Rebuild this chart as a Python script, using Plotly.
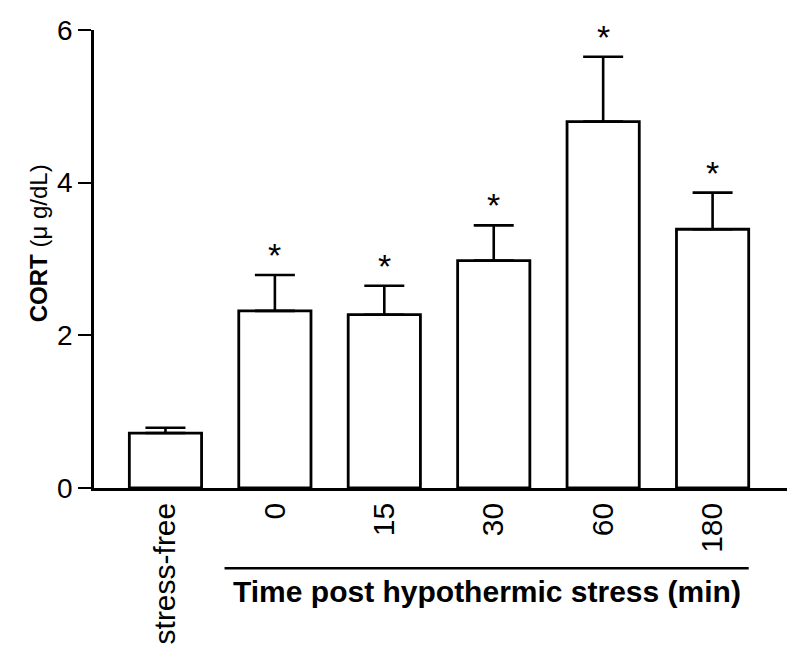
import plotly.graph_objects as go

categories = ["stress-free", "0", "15", "30", "60", "180"]
cort_mean = [0.72, 2.32, 2.27, 2.98, 4.80, 3.39]
cort_sem = [0.07, 0.47, 0.38, 0.46, 0.85, 0.48]
significant = [False, True, True, True, True, True]
y_ticks = [0, 2, 4, 6]

FONT = "Liberation Sans, Arial, sans-serif"
xs = list(range(len(categories)))

fig = go.Figure()
fig.add_trace(go.Bar(
    x=xs, y=cort_mean,
    marker=dict(color="white", line=dict(color="black", width=2.8)),
    error_y=dict(type="data", array=cort_sem, arrayminus=[0] * len(cort_sem),
                 symmetric=False, color="black", thickness=2.6, width=20),
    showlegend=False,
))

annotations = []
for i, (m, s, sig) in enumerate(zip(cort_mean, cort_sem, significant)):
    if sig:
        annotations.append(dict(x=i, y=m + s, xref="x", yref="y", text="*",
                                showarrow=False, yanchor="middle", yshift=20,
                                font=dict(family=FONT, size=34, color="black")))

annotations.append(dict(x=2.94, y=-0.227, xref="x", yref="paper",
                        text="<b>Time post hypothermic stress (min)</b>",
                        showarrow=False, yanchor="middle",
                        font=dict(family=FONT, size=30, color="black")))
annotations.append(dict(x=-0.079, y=0.535, xref="paper", yref="paper",
                        text="<b>CORT</b> (\u03bc g/dL)",
                        textangle=-90,
                        showarrow=False, xanchor="center", yanchor="middle",
                        font=dict(family=FONT, size=24, color="black")))

fig.update_layout(
    width=800, height=663,
    margin=dict(l=86, r=21, t=22, b=183, autoexpand=False),
    paper_bgcolor="white", plot_bgcolor="white",
    bargap=0.34,
    annotations=annotations,
    shapes=[dict(type="line", xref="x", yref="paper", x0=0.54, x1=5.33,
                 y0=-0.175, y1=-0.175, line=dict(color="black", width=2.5))],
    xaxis=dict(range=[-0.653, 5.68], tickmode="array", tickvals=xs,
               ticktext=categories, tickangle=-90, showline=True,
               linecolor="black", linewidth=2.5, ticks="", showgrid=False,
               zeroline=False, automargin=False,
               tickfont=dict(family=FONT, size=30, color="black"),
               ticklabelstandoff=0),
    yaxis=dict(range=[0, 6], tickvals=y_ticks, showline=True, linecolor="black",
               linewidth=2.5, ticks="outside", ticklen=13, tickwidth=2,
               tickcolor="black", showgrid=False, zeroline=False,
               automargin=False,
               tickfont=dict(family=FONT, size=28, color="black")),
)

fig.write_html("out.html")
